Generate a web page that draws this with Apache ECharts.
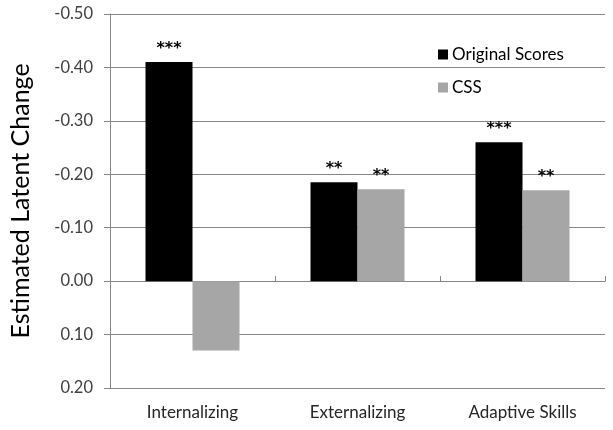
<!DOCTYPE html>
<html><head><meta charset="utf-8">
<script src="https://cdn.jsdelivr.net/npm/echarts@6/dist/echarts.min.js"></script>
<style>html,body{margin:0;padding:0;background:#fff}#c{width:613px;height:430px}</style>
</head><body><div id="c"></div>
<script>
const categories = ['Internalizing', 'Externalizing', 'Adaptive Skills'];
const originalScores = [-0.41, -0.185, -0.26];
const cssScores = [0.13, -0.172, -0.17];
const originalSig = ['***', '**', '***'];
const cssSig = ['', '**', '**'];
const yMin = -0.5, yMax = 0.2, yInterval = 0.1;

const chart = echarts.init(document.getElementById('c'));
const FONT = 'Lato';
function sigLabel(sig){
  return {show:true, position:'top', distance:5, fontFamily:'DejaVu Sans', fontWeight:'bold', fontSize:16, color:'#000',
    formatter: p => sig[p.dataIndex]};
}
chart.setOption({
  animation:false,
  textStyle:{fontFamily:FONT},
  grid:{left:107, right:8, top:14, bottom:42, containLabel:false},
  legend:{orient:'vertical', left:433, top:41, itemWidth:10, itemHeight:10, itemGap:16, icon:'rect',
    textStyle:{fontFamily:FONT, fontSize:17, color:'#000', padding:[0,0,0,-1]},
    data:['Original Scores','CSS']},
  xAxis:[
    {type:'category', data:categories, position:'bottom',
     axisLine:{show:true, onZero:true, lineStyle:{color:'#868686'}},
     axisTick:{show:true, inside:true, length:5, lineStyle:{color:'#868686'}},
     axisLabel:{show:false}},
    {type:'category', data:categories, position:'bottom',
     axisLine:{show:false}, axisTick:{show:false},
     axisLabel:{show:true, margin:16, fontFamily:FONT, fontSize:17, color:'#262626'}}
  ],
  yAxis:{type:'value', inverse:true, min:yMin, max:yMax, interval:yInterval,
    name:'Estimated Latent Change', nameLocation:'middle', nameGap:77, nameRotate:90,
    nameTextStyle:{fontFamily:FONT, fontSize:25, color:'#000'},
    axisLine:{show:true, lineStyle:{color:'#868686'}},
    axisTick:{show:true, length:6, lineStyle:{color:'#868686'}},
    axisLabel:{margin:17, fontFamily:FONT, fontSize:16.5, color:'#404040', formatter:v=>v.toFixed(2)},
    splitLine:{show:true, lineStyle:{color:'#868686'}}},
  series:[
    {name:'Original Scores', type:'bar', xAxisIndex:0, data:originalScores, barWidth:47, barGap:'0%',
     itemStyle:{color:'#000'}, label:sigLabel(originalSig)},
    {name:'CSS', type:'bar', xAxisIndex:0, data:cssScores, barWidth:47, barGap:'0%',
     itemStyle:{color:'#A6A6A6'}, label:sigLabel(cssSig)}
  ]
});
</script></body></html>
